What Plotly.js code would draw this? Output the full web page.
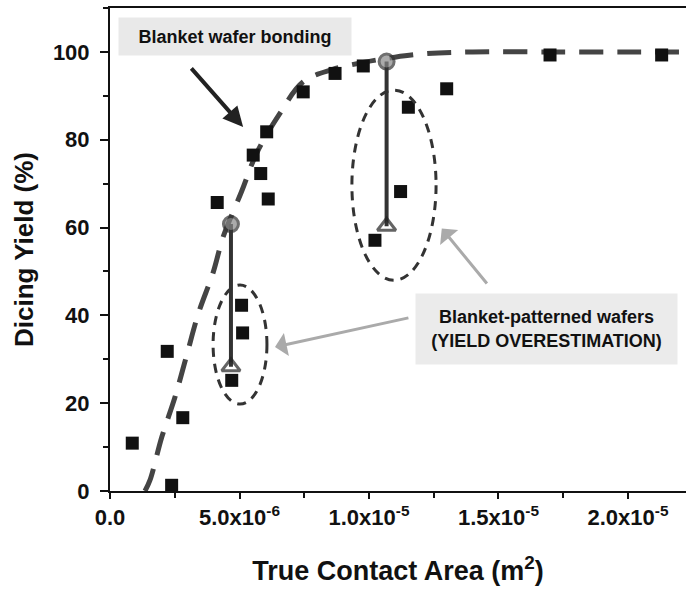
<!DOCTYPE html>
<html>
<head>
<meta charset="utf-8">
<script src="https://cdn.plot.ly/plotly-3.0.1.min.js"></script>
<style>html,body{margin:0;padding:0;background:#fff;}#chart{width:686px;height:590px;}</style>
</head>
<body>
<div id="chart"></div>
<script>
// Blanket wafer bonding: measured dicing yield vs true contact area
const contactArea = [0.86e-6, 2.21e-6, 2.38e-6, 2.81e-6, 4.14e-6, 4.70e-6, 5.08e-6, 5.12e-6, 5.53e-6, 5.82e-6, 6.05e-6, 6.11e-6, 7.46e-6, 8.69e-6, 9.78e-6, 10.23e-6, 11.22e-6, 11.52e-6, 13.0e-6, 16.99e-6, 21.3e-6];
const dicingYield = [10.9, 31.8, 1.3, 16.7, 65.7, 25.2, 42.3, 36.0, 76.5, 72.3, 81.8, 66.5, 90.9, 95.1, 96.8, 57.1, 68.2, 87.4, 91.6, 99.3, 99.3];

// Fitted trend (dashed curve)
const fitArea = [1.35e-6, 1.54e-6, 2.0e-6, 2.51e-6, 2.96e-6, 3.41e-6, 3.99e-6, 4.37e-6, 5.08e-6, 5.66e-6, 6.56e-6, 7.46e-6, 8.6e-6, 9.78e-6, 11.0e-6, 12.2e-6, 14.0e-6, 17.0e-6, 20.0e-6, 22.3e-6];
const fitYield = [0, 2.4, 12.3, 21.4, 30.9, 40.4, 49.9, 57.9, 68.2, 76.9, 86.0, 93.2, 96.0, 97.6, 98.8, 99.6, 100, 100, 100, 100];

// Blanket-patterned wafers: estimated (circle) vs measured (triangle)
const bpAreaA = [4.67e-6, 4.67e-6];
const bpYieldA = [60.8, 28.3];
const bpAreaB = [10.68e-6, 10.68e-6];
const bpYieldB = [97.8, 60.3];

// Dashed ellipses grouping blanket-patterned results [x0, x1, y0, y1]
const ellipseA = [3.98e-6, 6.06e-6, 19.8, 46.9];
const ellipseB = [9.34e-6, 12.59e-6, 48.0, 91.3];

// Axis ticks
const xTickVals = [0, 5e-6, 1e-5, 1.5e-5, 2e-5];
const xTickText = ["0.0", "5.0x10<sup>-6</sup>", "1.0x10<sup>-5</sup>", "1.5x10<sup>-5</sup>", "2.0x10<sup>-5</sup>"];

const FONT = "Liberation Sans, Arial, sans-serif";

const traces = [
  {x: fitArea, y: fitYield, mode: 'lines', type: 'scatter', line: {color: '#444', width: 5, dash: '24px,14px', shape: 'spline'}, hoverinfo: 'skip'},
  {x: contactArea, y: dicingYield, mode: 'markers', type: 'scatter', marker: {symbol: 'square', size: 13, color: '#111'}},
  {x: bpAreaA, y: bpYieldA, mode: 'lines+markers', type: 'scatter', line: {color: '#333', width: 4},
   marker: {symbol: ['circle', 'triangle-up-open'], size: [15, 16], color: ['#888', '#222'], line: {color: '#333', width: 3}}},
  {x: bpAreaB, y: bpYieldB, mode: 'lines+markers', type: 'scatter', line: {color: '#333', width: 4},
   marker: {symbol: ['circle', 'triangle-up-open'], size: [15, 16], color: ['#888', '#222'], line: {color: '#333', width: 3}}}
];

const layout = {
  width: 686, height: 590,
  margin: {l: 110, r: 0, t: 8, b: 99},
  paper_bgcolor: '#fff', plot_bgcolor: '#fff',
  showlegend: false,
  font: {family: FONT, color: '#111'},
  xaxis: {
    range: [0, 22.24e-6], tickmode: 'array', tickvals: xTickVals, ticktext: xTickText,
    showgrid: false, zeroline: false, showline: true, linewidth: 2, linecolor: '#111', mirror: true,
    ticks: 'outside', ticklen: 6, tickwidth: 2, tickcolor: '#111',
    minor: {tickmode: 'linear', tick0: 0, dtick: 2.5e-6, ticks: 'outside', ticklen: 5, tickwidth: 2, tickcolor: '#111'},
    tickfont: {family: FONT, size: 22, weight: 'bold', color: '#111'},
    title: {text: 'True Contact Area (m<sup>2</sup>)', font: {family: FONT, size: 27, weight: 'bold', color: '#111'}, standoff: 32}
  },
  yaxis: {
    range: [0, 110], tickmode: 'linear', tick0: 0, dtick: 20,
    showgrid: false, zeroline: false, showline: true, linewidth: 2, linecolor: '#111', mirror: false,
    ticks: 'outside', ticklen: 8, tickwidth: 2, tickcolor: '#111', ticklabelstandoff: 6,
    minor: {tickmode: 'linear', tick0: 0, dtick: 10, ticks: 'outside', ticklen: 5, tickwidth: 2, tickcolor: '#111'},
    tickfont: {family: FONT, size: 22, weight: 'bold', color: '#111'},
    title: {text: 'Dicing Yield (%)', font: {family: FONT, size: 26, weight: 'bold', color: '#111'}, standoff: 12}
  },
  shapes: [
    {type: 'circle', xref: 'x', yref: 'y', x0: ellipseA[0], x1: ellipseA[1], y0: ellipseA[2], y1: ellipseA[3], line: {color: '#333', width: 3, dash: '9px,7px'}},
    {type: 'circle', xref: 'x', yref: 'y', x0: ellipseB[0], x1: ellipseB[1], y0: ellipseB[2], y1: ellipseB[3], line: {color: '#333', width: 3, dash: '9px,7px'}}
  ],
  annotations: [
    {x: 4.83e-6, y: 103.6, xref: 'x', yref: 'y', text: 'Blanket wafer bonding', showarrow: false,
     bgcolor: '#e9e9e9', width: 230, height: 35, font: {family: FONT, size: 18, weight: 'bold', color: '#111'}},
    {x: 5.14e-6, y: 82.9, ax: 3.09e-6, ay: 96.6, xref: 'x', yref: 'y', axref: 'x', ayref: 'y', text: '',
     showarrow: true, arrowhead: 2, arrowsize: 1, arrowwidth: 4, arrowcolor: '#222'},
    {x: 16.87e-6, y: 36.9, xref: 'x', yref: 'y', text: 'Blanket-patterned wafers<br>(YIELD OVERESTIMATION)', showarrow: false,
     bgcolor: '#ebebeb', width: 259, height: 68, font: {family: FONT, size: 18, weight: 'bold', color: '#111'}},
    {x: 6.37e-6, y: 32.8, ax: 11.58e-6, ay: 39.5, xref: 'x', yref: 'y', axref: 'x', ayref: 'y', text: '',
     showarrow: true, arrowhead: 1, arrowsize: 1.3, arrowwidth: 3, arrowcolor: '#aaa'},
    {x: 12.81e-6, y: 59.8, ax: 14.6e-6, ay: 46.9, xref: 'x', yref: 'y', axref: 'x', ayref: 'y', text: '',
     showarrow: true, arrowhead: 1, arrowsize: 1.3, arrowwidth: 3, arrowcolor: '#aaa'}
  ]
};

Plotly.newPlot('chart', traces, layout, {displayModeBar: false, staticPlot: true});
</script>
</body>
</html>
